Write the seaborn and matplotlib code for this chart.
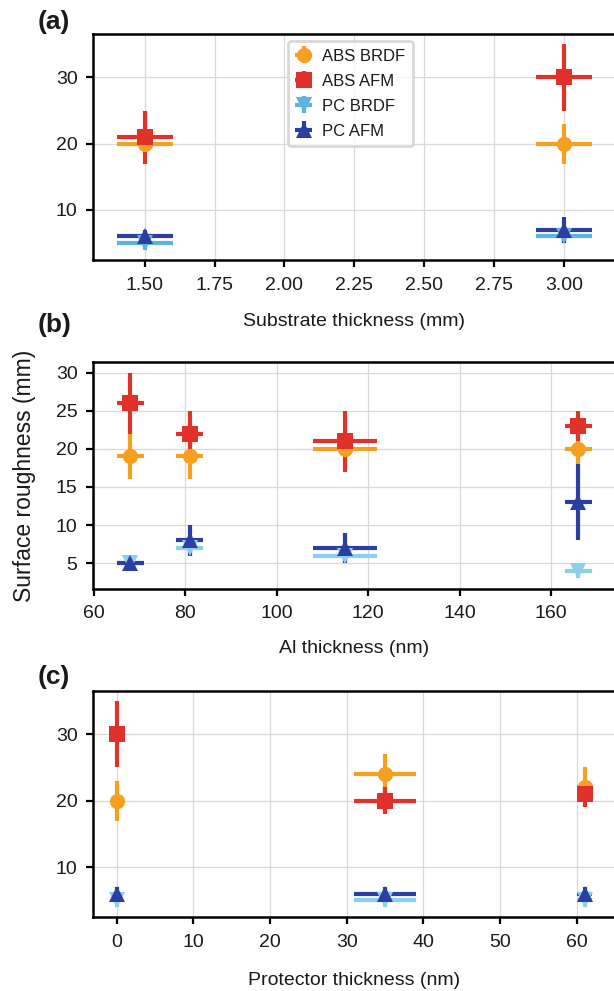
import numpy as np
import matplotlib
matplotlib.use("Agg")
import matplotlib.pyplot as plt
import seaborn as sns

# ---- data -------------------------------------------------------------
series = ["ABS BRDF", "ABS AFM", "PC BRDF", "PC AFM"]

# (a) substrate thickness (mm)
sub_x = [1.5, 3.0]
sub_xerr = [0.1, 0.1]
sub_abs_brdf = [20, 20]
sub_abs_brdf_err = [1, 3]
sub_abs_afm = [21, 30]
sub_abs_afm_err = [4, 5]
sub_pc_brdf = [5, 6]
sub_pc_brdf_err = [1, 1]
sub_pc_afm = [6, 7]
sub_pc_afm_err = [1, 2]

# (b) Al thickness (nm)
al_x = [68, 81, 115, 166]
al_xerr = [3, 3, 7, 3]
al_abs_brdf = [19, 19, 20, 20]
al_abs_brdf_err = [3, 3, 1, 2]
al_abs_afm = [26, 22, 21, 23]
al_abs_afm_err = [4, 3, 4, 2]
al_pc_brdf = [5, 7, 6, 4]
al_pc_brdf_err = [0.5, 1, 1, 1]
al_pc_afm = [5, 8, 7, 13]
al_pc_afm_err = [0.5, 2, 2, 5]

# (c) protector thickness (nm)
pr_x = [0, 35, 61]
pr_xerr = [0, 4, 1]
pr_abs_brdf = [20, 24, 22]
pr_abs_brdf_err = [3, 3, 3]
pr_abs_afm = [30, 20, 21]
pr_abs_afm_err = [5, 2, 2]
pr_pc_brdf = [5, 5, 5]
pr_pc_brdf_err = [1, 1, 1]
pr_pc_afm = [6, 6, 6]
pr_pc_afm_err = [1, 1, 1]

# ---- style ------------------------------------------------------------
sns.set_theme(style="whitegrid")
plt.rcParams["font.family"] = ["Liberation Sans", "DejaVu Sans"]
plt.rcParams.update({
    "axes.edgecolor": "black",
    "axes.linewidth": 1.8,
    "grid.color": "#d9d9d9",
    "grid.linewidth": 0.9,
    "xtick.bottom": True,
    "ytick.left": True,
    "xtick.direction": "out",
    "ytick.direction": "out",
    "xtick.major.size": 5,
    "ytick.major.size": 5,
    "xtick.major.width": 1.6,
    "ytick.major.width": 1.6,
    "xtick.major.pad": 7,
    "ytick.major.pad": 6,
    "xtick.color": "black",
    "ytick.color": "black",
    "xtick.labelcolor": "#1a1a1a",
    "ytick.labelcolor": "#1a1a1a",
    "axes.labelcolor": "#1a1a1a",
    "text.color": "#1a1a1a",
    "xtick.labelsize": 14,
    "ytick.labelsize": 14,
    "axes.labelsize": 14,
})

orange = "#f5a021"
red = "#e0312a"
lightblue_a = "#5bb3e0"
lightblue_b = "#8ccfed"
darkblue = "#2b3fa2"
markers = ["o", "s", "v", "^"]

fig = plt.figure(figsize=(6.14, 9.91), dpi=100)

W = 614.0
H = 991.0
left_px, right_px = 92.8, 616.0


def make_axes(top_px, bottom_px):
    return fig.add_axes([left_px / W, 1 - bottom_px / H,
                         (right_px - left_px) / W, (bottom_px - top_px) / H])


def draw_panel(ax, x, xerr, ys, yerrs, colors):
    handles = []
    for name, y, ye, c, m in zip(series, ys, yerrs, colors, markers):
        xe = None if np.allclose(xerr, 0) else xerr
        h = ax.errorbar(x, y, yerr=ye, xerr=xe, fmt=m, color=c, ecolor=c,
                        elinewidth=3.0, capsize=0, markersize=11,
                        markeredgewidth=0, label=name, zorder=3)
        handles.append(h)
    ax.set_axisbelow(True)
    for side in ("top", "left", "bottom", "right"):
        ax.spines[side].set_color("black")
        ax.spines[side].set_linewidth(1.8)
    return handles


# (a)
ax_a = make_axes(34.0, 260.0)
h = draw_panel(ax_a, sub_x, sub_xerr,
               [sub_abs_brdf, sub_abs_afm, sub_pc_brdf, sub_pc_afm],
               [sub_abs_brdf_err, sub_abs_afm_err, sub_pc_brdf_err, sub_pc_afm_err],
               [orange, red, lightblue_a, darkblue])
ax_a.set_xticks(np.arange(1.5, 3.01, 0.25))
ax_a.set_xticklabels([f"{v:.2f}" for v in np.arange(1.5, 3.01, 0.25)])
ax_a.set_yticks([10, 20, 30])
ax_a.set_xlabel("Substrate thickness (mm)", labelpad=14)
leg = ax_a.legend(handles=h, labels=series, loc="upper left",
                  bbox_to_anchor=(0.373, 0.969), borderaxespad=0,
                  fontsize=12, frameon=True, fancybox=True,
                  handlelength=1.0, handletextpad=0.6, borderpad=0.45,
                  labelspacing=0.6)
leg.get_frame().set_edgecolor("#cfcfcf")
leg.get_frame().set_linewidth(2.0)

# (b)
ax_b = make_axes(362.3, 588.7)
draw_panel(ax_b, al_x, al_xerr,
           [al_abs_brdf, al_abs_afm, al_pc_brdf, al_pc_afm],
           [al_abs_brdf_err, al_abs_afm_err, al_pc_brdf_err, al_pc_afm_err],
           [orange, red, lightblue_b, darkblue])
ax_b.set_xticks([60, 80, 100, 120, 140, 160])
ax_b.set_yticks([5, 10, 15, 20, 25, 30])
ax_b.set_xlabel("Al thickness (nm)", labelpad=13)
ax_b.set_ylabel("Surface roughness (mm)", fontsize=16.5, labelpad=14)

# (c)
ax_c = make_axes(690.7, 917.3)
draw_panel(ax_c, pr_x, pr_xerr,
           [pr_abs_brdf, pr_abs_afm, pr_pc_brdf, pr_pc_afm],
           [pr_abs_brdf_err, pr_abs_afm_err, pr_pc_brdf_err, pr_pc_afm_err],
           [orange, red, lightblue_b, darkblue])
ax_c.set_xlim(-3.1, 65.1)
ax_c.set_xticks([0, 10, 20, 30, 40, 50, 60])
ax_c.set_yticks([10, 20, 30])
ax_c.set_xlabel("Protector thickness (nm)", labelpad=15)

# panel letters
for lab, ypx in (("(a)", 22), ("(b)", 325), ("(c)", 677)):
    fig.text(38 / W, 1 - ypx / H, lab, fontsize=19, fontweight="bold",
             va="center", ha="left")

fig.savefig("out.png", dpi=100)
